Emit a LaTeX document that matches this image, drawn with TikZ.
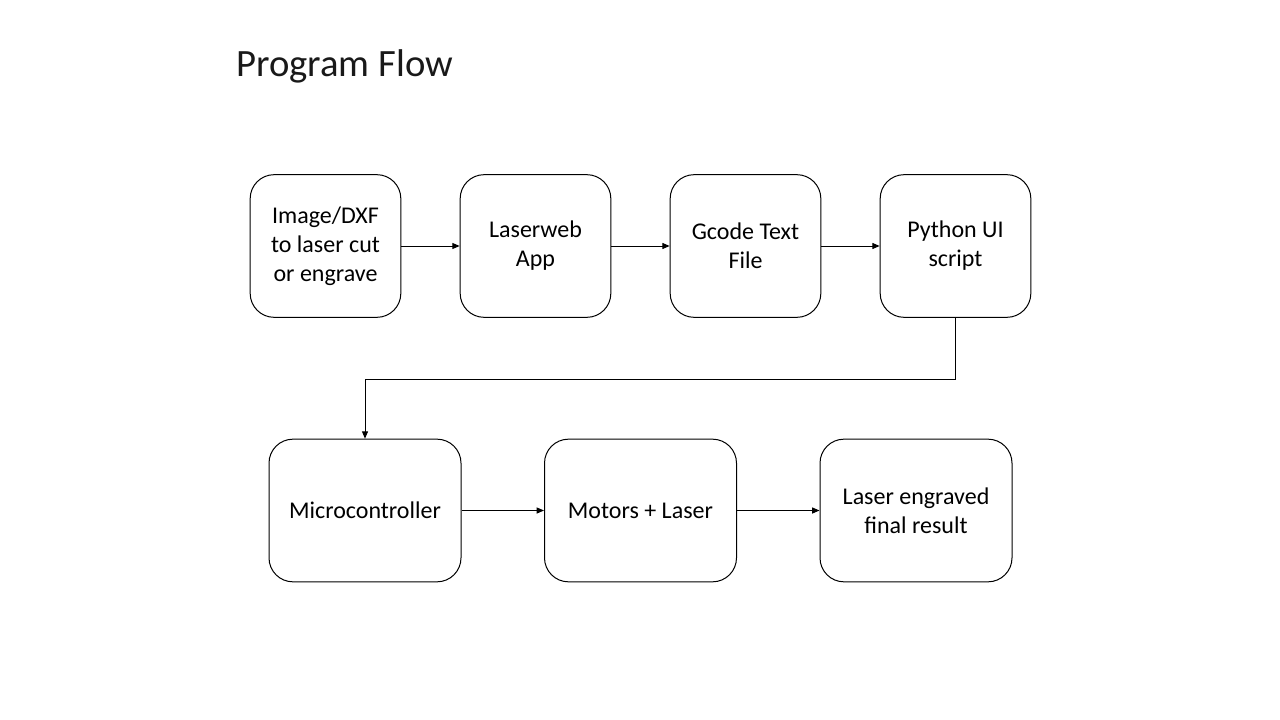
\documentclass[tikz,border=0pt]{standalone}
\usepackage{fontspec}
\setmainfont{Carlito}
\usetikzlibrary{arrows.meta}
\begin{document}
\begin{tikzpicture}[x=0.75pt,y=-0.75pt,
  box/.style={draw=black,line width=0.75pt,rounded corners=18pt,minimum height=107pt,align=center,inner sep=0pt,font=\fontsize{18pt}{21.6pt}\selectfont},
  sbox/.style={box,minimum width=113pt},
  wbox/.style={box,minimum width=144pt},
  arr/.style={draw=black,line width=0.75pt,-{Triangle[length=5.5pt,width=4.5pt]}}]
\useasboundingbox (0,0) rectangle (1280,720);
\node[anchor=base west,font=\fontsize{29pt}{34.8pt}\selectfont,inner sep=0pt,text=black!90] (title) at (236,77) {Program Flow};
\node[sbox] (a) at (325.5,246) {Image/DXF\\to laser cut\\or engrave};
\node[sbox] (b) at (535.5,246) {Laserweb\\App};
\node[sbox] (c) at (745.5,246) {Gcode Text\\File};
\node[sbox] (d) at (955.5,246) {Python UI\\script};
\node[wbox] (e) at (365,510.5) {Microcontroller};
\node[wbox] (f) at (640.5,510.5) {Motors + Laser};
\node[wbox] (g) at (916,510.5) {Laser engraved\\final result};
\coordinate (k1) at (955.5,379);
\coordinate (k2) at (365,379);
\draw[arr] (a) -- (b);
\draw[arr] (b) -- (c);
\draw[arr] (c) -- (d);
\draw[arr] (d.south) -- (k1) -- (k2) -- (e.north);
\draw[arr] (e) -- (f);
\draw[arr] (f) -- (g);
\end{tikzpicture}
\end{document}
